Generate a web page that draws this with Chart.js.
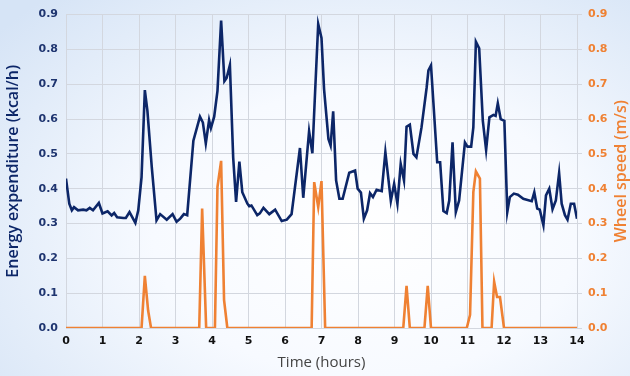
<!DOCTYPE html>
<html>
<head>
<meta charset="utf-8">
<script src="https://cdn.jsdelivr.net/npm/chart.js@4/dist/chart.umd.min.js"></script>
<style>
  html, body { margin: 0; padding: 0; }
  body {
    width: 630px; height: 376px; overflow: hidden;
    background: radial-gradient(ellipse 75% 85% at 58% 62%, #ffffff 0%, #f7faff 45%, #e2ecf9 80%, #d6e4f6 100%);
  }
  #wrap { position: relative; width: 630px; height: 376px; }
</style>
</head>
<body>
<div id="wrap"><canvas id="chart" width="630" height="376"></canvas></div>
<script>
// energy expenditure (kcal/h)
const energyTimes = [0, 0.09, 0.16, 0.22, 0.33, 0.47, 0.56, 0.65, 0.74, 0.9,
  1.0, 1.14, 1.25, 1.32, 1.40, 1.57, 1.64, 1.74, 1.90, 1.98,
  2.07, 2.16, 2.23, 2.35, 2.48, 2.58, 2.76, 2.92, 3.03, 3.13,
  3.23, 3.32, 3.49, 3.67, 3.75, 3.83, 3.92, 3.97, 4.06, 4.15,
  4.25, 4.34, 4.40, 4.49, 4.58, 4.66, 4.75, 4.83, 4.97, 5.02,
  5.08, 5.24, 5.31, 5.41, 5.57, 5.73, 5.91, 6.05, 6.18, 6.41,
  6.50, 6.66, 6.75, 6.83, 6.91, 7.0, 7.07, 7.19, 7.25, 7.32,
  7.40, 7.49, 7.58, 7.76, 7.92, 7.99, 8.08, 8.16, 8.25, 8.33,
  8.41, 8.51, 8.65, 8.75, 8.90, 8.99, 9.08, 9.17, 9.26, 9.33,
  9.42, 9.52, 9.60, 9.74, 9.88, 9.93, 10.0, 10.08, 10.17, 10.25,
  10.34, 10.43, 10.50, 10.59, 10.68, 10.77, 10.93, 11.0, 11.1, 11.16,
  11.23, 11.32, 11.42, 11.51, 11.60, 11.71, 11.77, 11.83, 11.91, 12.01,
  12.09, 12.16, 12.27, 12.38, 12.53, 12.76, 12.83, 12.91, 12.98, 13.08,
  13.15, 13.24, 13.33, 13.42, 13.51, 13.58, 13.67, 13.74, 13.83, 13.92, 14.0];
const energyValues = [0.429, 0.357, 0.338, 0.347, 0.338, 0.34, 0.338, 0.345, 0.338, 0.359,
  0.329, 0.335, 0.323, 0.33, 0.318, 0.316, 0.316, 0.333, 0.302, 0.338,
  0.433, 0.683, 0.624, 0.462, 0.309, 0.327, 0.311, 0.327, 0.305, 0.314,
  0.327, 0.324, 0.538, 0.607, 0.59, 0.53, 0.597, 0.574, 0.607, 0.681,
  0.883, 0.709, 0.718, 0.755, 0.49, 0.362, 0.478, 0.39, 0.357, 0.35,
  0.352, 0.324, 0.329, 0.345, 0.327, 0.34, 0.307, 0.311, 0.327, 0.517,
  0.374, 0.565, 0.502, 0.69, 0.873, 0.833, 0.686, 0.543, 0.524, 0.622,
  0.424, 0.371, 0.371, 0.446, 0.452, 0.40, 0.389, 0.314, 0.338, 0.387,
  0.376, 0.397, 0.393, 0.505, 0.365, 0.414, 0.357, 0.471, 0.424, 0.578,
  0.584, 0.50, 0.49, 0.576, 0.69, 0.74, 0.754, 0.624, 0.476, 0.476,
  0.336, 0.33, 0.366, 0.533, 0.333, 0.366, 0.533, 0.521, 0.521, 0.576,
  0.822, 0.803, 0.595, 0.511, 0.605, 0.612, 0.609, 0.645, 0.60, 0.595,
  0.333, 0.376, 0.386, 0.383, 0.371, 0.364, 0.39, 0.343, 0.34, 0.295,
  0.381, 0.40, 0.341, 0.366, 0.445, 0.357, 0.324, 0.311, 0.357, 0.357, 0.314];

// wheel speed (m/s)
const wheelTimes = [0, 2.07, 2.16, 2.25, 2.33, 3.65, 3.73, 3.84, 4.08, 4.15, 4.25, 4.33, 4.42,
  6.73, 6.80, 6.91, 7.0, 7.1, 9.24, 9.33, 9.42, 9.82, 9.91, 10.0,
  10.98, 11.07, 11.16, 11.23, 11.34, 11.41, 11.66, 11.73, 11.81, 11.89, 12.0, 14];
const wheelValues = [0, 0, 0.15, 0.05, 0, 0, 0.343, 0, 0, 0.405, 0.48, 0.081, 0,
  0, 0.419, 0.347, 0.422, 0, 0, 0.121, 0, 0, 0.121, 0,
  0, 0.038, 0.39, 0.45, 0.429, 0, 0, 0.133, 0.089, 0.089, 0, 0];

const NAVY = '#0c2668';
const ORANGE = '#ef8133';
const GRID = '#d3d7df';

const toPoints = (xs, ys) => xs.map((x, i) => ({ x: x, y: ys[i] }));

// right axis title reads bottom-to-top in the original, so draw it by hand
const rightTitle = {
  id: 'rightTitle',
  afterDraw(chart) {
    const { ctx, chartArea } = chart;
    ctx.save();
    ctx.translate(621, (chartArea.top + chartArea.bottom) / 2);
    ctx.rotate(-Math.PI / 2);
    ctx.fillStyle = ORANGE;
    ctx.font = '600 16px "Open Sans"';
    ctx.textAlign = 'center';
    ctx.textBaseline = 'middle';
    ctx.fillText('Wheel speed (m/s)', 0, 0);
    ctx.restore();
  }
};

new Chart(document.getElementById('chart'), {
  type: 'line',
  data: {
    datasets: [{
      label: 'Energy expenditure',
      data: toPoints(energyTimes, energyValues),
      borderColor: NAVY,
      borderWidth: 2.6,
      pointRadius: 0,
      tension: 0,
      yAxisID: 'y'
    }, {
      label: 'Wheel speed',
      data: toPoints(wheelTimes, wheelValues),
      borderColor: ORANGE,
      borderWidth: 2.6,
      pointRadius: 0,
      tension: 0,
      yAxisID: 'y1'
    }]
  },
  plugins: [rightTitle],
  options: {
    responsive: false,
    animation: false,
    layout: { padding: { top: 13, left: 0, right: 0, bottom: 0 } },
    plugins: { legend: { display: false }, tooltip: { enabled: false } },
    scales: {
      x: {
        type: 'linear',
        min: 0, max: 14,
        afterFit: (s) => { s.height = 48; },
        ticks: { stepSize: 1, color: '#111', padding: 7, font: { family: 'DejaVu Sans', size: 11, weight: 'bold' } },
        grid: { color: GRID, drawTicks: false },
        border: { color: GRID },
        title: { display: true, text: 'Time (hours)', color: '#444', padding: { top: 6 }, font: { family: 'Open Sans', size: 15 } }
      },
      y: {
        position: 'left',
        min: 0, max: 0.9,
        afterFit: (s) => { s.width = 66; },
        ticks: { stepSize: 0.1, color: '#1f3570', padding: 8, callback: (v) => v.toFixed(1), font: { family: 'DejaVu Sans', size: 11, weight: 'bold' } },
        grid: { color: GRID, drawTicks: false },
        border: { color: GRID },
        title: { display: true, text: 'Energy expenditure (kcal/h)', color: NAVY, padding: { top: 4, bottom: 2 }, font: { family: 'Open Sans', size: 16, weight: '600' } }
      },
      y1: {
        position: 'right',
        min: 0, max: 0.9,
        afterFit: (s) => { s.width = 53; },
        ticks: { stepSize: 0.1, color: ORANGE, padding: 6, callback: (v) => v.toFixed(1), font: { family: 'DejaVu Sans', size: 11, weight: 'bold' } },
        grid: { drawOnChartArea: false, color: GRID, tickLength: 5 },
        border: { color: GRID }
      }
    }
  }
});
</script>
</body>
</html>
